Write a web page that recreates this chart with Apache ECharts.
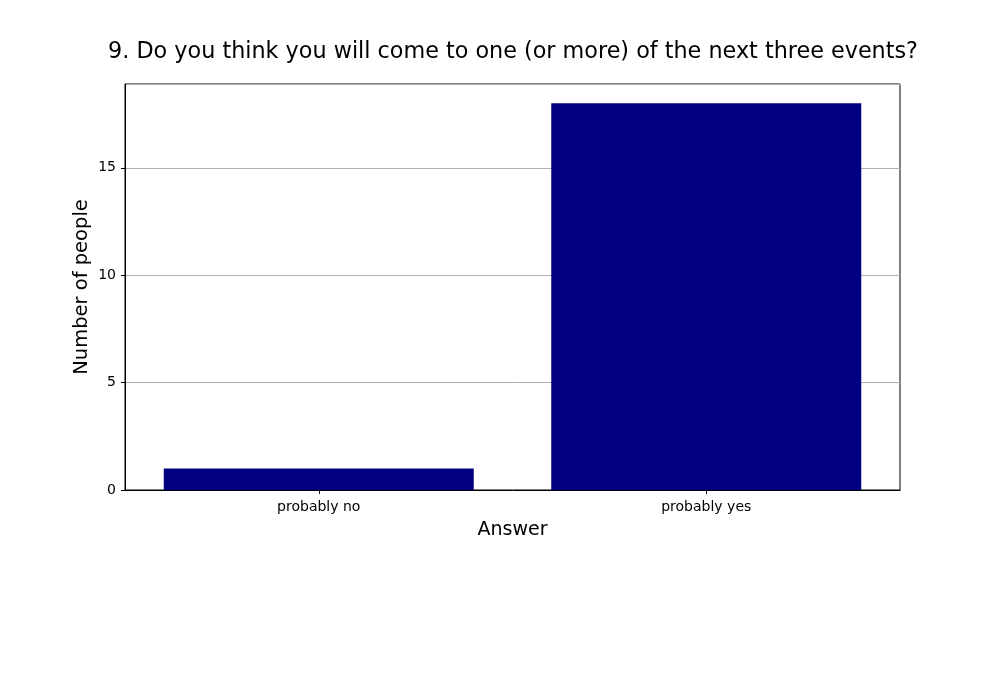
<!DOCTYPE html>
<html>
<head>
<meta charset="utf-8">
<script src="https://cdn.jsdelivr.net/npm/echarts@6/dist/echarts.min.js"></script>
<style>
html,body{margin:0;padding:0;background:#fff;}
#chart{width:1000px;height:700px;}
</style>
</head>
<body>
<div id="chart"></div>
<script>
const categories = ["probably no", "probably yes"];
const counts = [1, 18];
const yTicks = [0, 5, 10, 15];

const chart = echarts.init(document.getElementById('chart'));
const font = "DejaVu Sans";
chart.setOption({
  backgroundColor: '#ffffff',
  animation: false,
  title: {
    text: "9. Do you think you will come to one (or more) of the next three events?",
    left: 508, top: 36, textAlign: 'center',
    textStyle: { fontFamily: font, fontSize: 22.3, fontWeight: 'normal', color: '#000' }
  },
  grid: {
    left: 125, right: 100, top: 84, bottom: 210,
    show: true, borderColor: '#000', borderWidth: 1, backgroundColor: 'transparent'
  },
  xAxis: {
    type: 'category',
    data: categories,
    name: 'Answer',
    nameLocation: 'middle',
    nameGap: 31,
    nameTextStyle: { fontFamily: font, fontSize: 19, color: '#000' },
    axisLine: { show: true, lineStyle: { color: '#000', width: 1 } },
    axisTick: { show: true, alignWithLabel: true, length: 4, lineStyle: { color: '#000' } },
    axisLabel: { fontFamily: font, fontSize: 14, color: '#000', margin: 10 },
    splitLine: { show: false }
  },
  yAxis: {
    type: 'value',
    min: 0, max: 18.9, interval: 5,
    name: 'Number of people',
    nameLocation: 'middle',
    nameGap: 33,
    nameMoveOverlap: false,
    nameRotate: 90,
    nameTextStyle: { fontFamily: font, fontSize: 19.5, color: '#000' },
    axisLine: { show: true, lineStyle: { color: '#000', width: 1 } },
    axisTick: { show: true, length: 4, lineStyle: { color: '#000' } },
    axisLabel: {
      fontFamily: font, fontSize: 14, color: '#000', margin: 9,
      showMaxLabel: false,
      formatter: function (v) { return yTicks.indexOf(v) >= 0 ? String(v) : ''; }
    },
    splitLine: { show: true, lineStyle: { color: '#b0b0b0', width: 1 } }
  },
  series: [{
    type: 'bar',
    data: counts,
    barWidth: '80%',
    itemStyle: { color: '#000080' }
  }]
});
</script>
</body>
</html>
